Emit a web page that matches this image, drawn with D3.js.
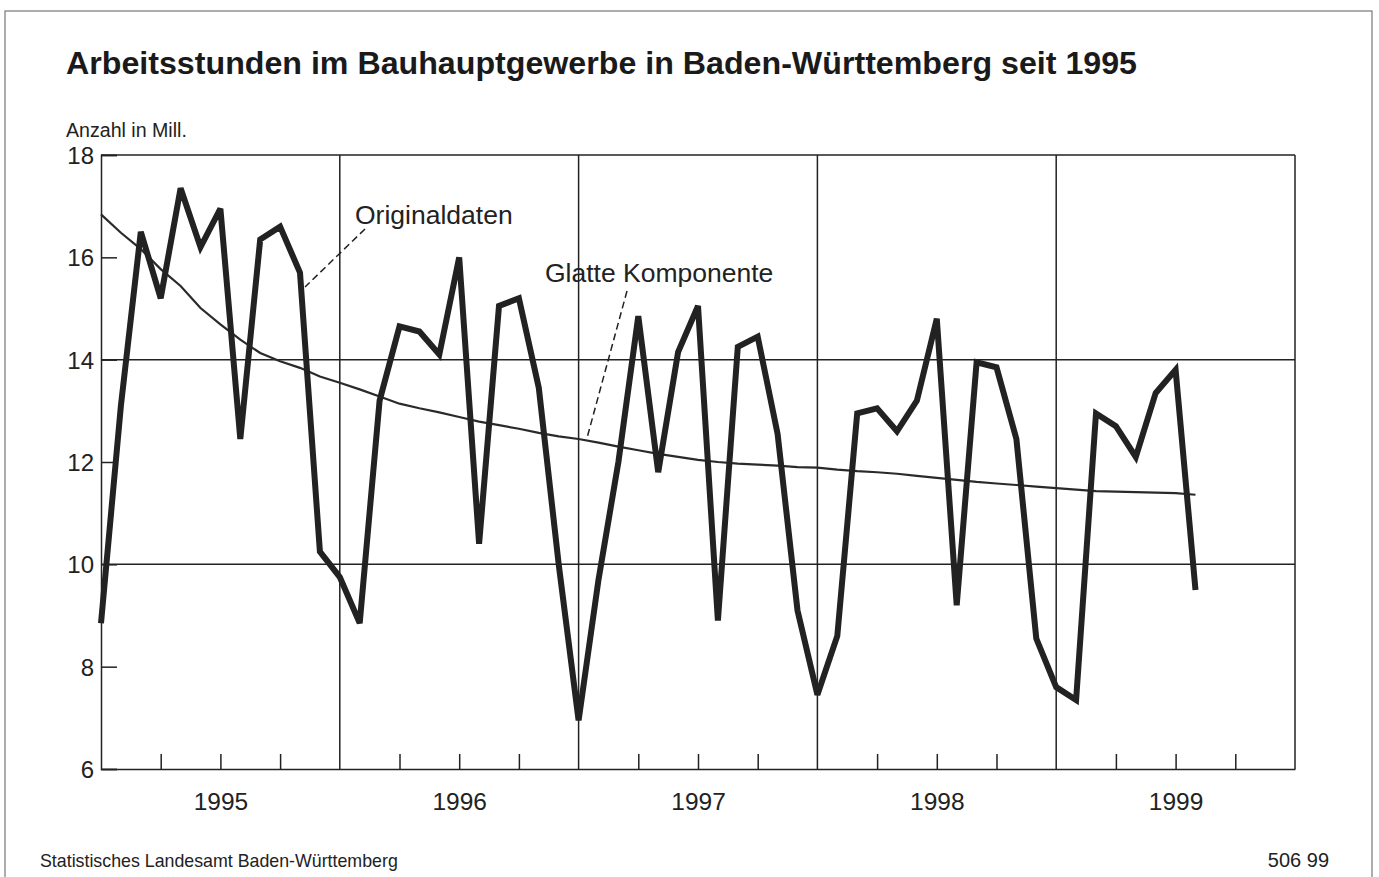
<!DOCTYPE html>
<html>
<head>
<meta charset="utf-8">
<script src="https://cdn.jsdelivr.net/npm/d3@7"></script>
<style>
  body { margin: 0; background: #fff; }
  svg { display: block; font-family: "Liberation Sans", Arial, sans-serif; }
  .axis path, .axis line { stroke: #222; }
  .axis text { fill: #222; }
</style>
</head>
<body>
<div id="chart"></div>
<script>
// monthly values, Jan 1995 .. Aug 1999 (Mill. hours)
var originalValues = [
  8.85, 13.1, 16.5, 15.2, 17.35, 16.2, 16.95, 12.45, 16.35, 16.6, 15.7, 10.25,
  9.75, 8.85, 13.2, 14.65, 14.55, 14.1, 16.0, 10.4, 15.05, 15.2, 13.45, 10.0,
  6.95, 9.7, 12.0, 14.85, 11.8, 14.15, 15.05, 8.9, 14.25, 14.45, 12.55, 9.1,
  7.45, 8.6, 12.95, 13.05, 12.6, 13.2, 14.8, 9.2, 13.95, 13.85, 12.45, 8.55,
  7.6, 7.35, 12.95, 12.7, 12.1, 13.35, 13.8, 9.5
];
var smoothValues = [
  16.84, 16.48, 16.16, 15.77, 15.44, 15.01, 14.69, 14.39, 14.13, 13.97, 13.84, 13.67,
  13.55, 13.42, 13.28, 13.14, 13.05, 12.97, 12.88, 12.79, 12.72, 12.65, 12.57, 12.5,
  12.45, 12.38, 12.3, 12.23, 12.16, 12.1, 12.04, 12.0, 11.97, 11.95, 11.93, 11.9,
  11.89, 11.85, 11.82, 11.8, 11.77, 11.73, 11.69, 11.65, 11.61, 11.58, 11.55, 11.52,
  11.49, 11.46, 11.43, 11.42, 11.41, 11.4, 11.39, 11.36
];
var yearLabels = ["1995", "1996", "1997", "1998", "1999"];
var yTickValues = [6, 8, 10, 12, 14, 16, 18];
var yGridValues = [10, 14, 18];

var W = 1379, H = 877;
var margin = {top: 155, right: 84, bottom: 108, left: 101};
var plotW = W - margin.left - margin.right;
var plotH = H - margin.top - margin.bottom;

var svg = d3.select("#chart").append("svg")
    .attr("width", W)
    .attr("height", H);

// outer frame of the scan
svg.append("rect")
    .attr("x", 5).attr("y", 11)
    .attr("width", 1367).attr("height", 900)
    .attr("fill", "none")
    .attr("stroke", "#777")
    .attr("stroke-width", 1.2);

svg.append("text")
    .attr("x", 66).attr("y", 74)
    .attr("font-size", 31)
    .attr("font-weight", "bold")
    .attr("fill", "#1a1a1a")
    .attr("textLength", 1071)
    .attr("lengthAdjust", "spacingAndGlyphs")
    .text("Arbeitsstunden im Bauhauptgewerbe in Baden-Württemberg seit 1995");

svg.append("text")
    .attr("x", 66).attr("y", 137)
    .attr("font-size", 19.6)
    .attr("fill", "#222")
    .text("Anzahl in Mill.");

svg.append("text")
    .attr("x", 40).attr("y", 867)
    .attr("font-size", 17.8)
    .attr("fill", "#222")
    .text("Statistisches Landesamt Baden-Württemberg");

svg.append("text")
    .attr("x", 1329).attr("y", 867)
    .attr("font-size", 20)
    .attr("text-anchor", "end")
    .attr("fill", "#222")
    .text("506 99");

var g = svg.append("g")
    .attr("transform", "translate(" + margin.left + "," + margin.top + ")");

var x = d3.scaleLinear().domain([0, 60]).range([0, plotW]);
var y = d3.scaleLinear().domain([6, 18]).range([plotH, 0]);

// horizontal grid lines
g.selectAll(".hgrid")
    .data(yGridValues)
    .enter().append("line")
    .attr("class", "hgrid")
    .attr("x1", 0).attr("x2", plotW)
    .attr("y1", function(d) { return y(d); })
    .attr("y2", function(d) { return y(d); })
    .attr("stroke", "#222")
    .attr("stroke-width", 1.5);

// year separators
g.selectAll(".vgrid")
    .data([12, 24, 36, 48, 60])
    .enter().append("line")
    .attr("class", "vgrid")
    .attr("x1", function(d) { return x(d); })
    .attr("x2", function(d) { return x(d); })
    .attr("y1", 0).attr("y2", plotH)
    .attr("stroke", "#222")
    .attr("stroke-width", 1.5);

// y axis, inward ticks
var yAxis = d3.axisLeft(y)
    .tickValues(yTickValues)
    .tickSize(-16)
    .tickPadding(7)
    .tickFormat(d3.format("d"));

g.append("g")
    .attr("class", "axis y")
    .call(yAxis)
    .call(function(sel) {
        sel.select(".domain").attr("stroke-width", 1.5);
        sel.selectAll("line").attr("stroke-width", 1.5);
        sel.selectAll("text")
            .attr("font-size", 24)
            .attr("dy", "0.36em")
            .attr("font-family", "Liberation Sans, Arial, sans-serif");
    });

// x axis, quarterly inward ticks
var quarterTicks = d3.range(0, 61, 3).filter(function(d) { return d % 12 !== 0; });
var xAxis = d3.axisBottom(x)
    .tickValues(quarterTicks)
    .tickSize(-15)
    .tickSizeOuter(0)
    .tickFormat("");

g.append("g")
    .attr("class", "axis x")
    .attr("transform", "translate(0," + plotH + ")")
    .call(xAxis)
    .call(function(sel) {
        sel.select(".domain").attr("stroke-width", 1.5);
        sel.selectAll("line").attr("stroke-width", 1.5);
    });

// year labels centred on each year
var yearAxis = d3.axisBottom(x)
    .tickValues(yearLabels.map(function(d, i) { return i * 12 + 6; }))
    .tickSize(0)
    .tickPadding(24)
    .tickFormat(function(d) { return yearLabels[(d - 6) / 12]; });

g.append("g")
    .attr("class", "axis years")
    .attr("transform", "translate(0," + plotH + ")")
    .call(yearAxis)
    .call(function(sel) {
        sel.select(".domain").remove();
        sel.selectAll("text").attr("font-size", 24.5).attr("font-family", "Liberation Sans, Arial, sans-serif");
    });

// smooth component
var line = d3.line()
    .x(function(d, i) { return x(i); })
    .y(function(d) { return y(d); });

g.append("path")
    .datum(smoothValues)
    .attr("d", line)
    .attr("fill", "none")
    .attr("stroke", "#2a2a2a")
    .attr("stroke-width", 2.2);

// original data
g.append("path")
    .datum(originalValues)
    .attr("d", line)
    .attr("fill", "none")
    .attr("stroke", "#222")
    .attr("stroke-width", 6)
    .attr("stroke-linejoin", "miter")
    .attr("stroke-miterlimit", 3);

// annotations with dashed leaders
var notes = [
    {text: "Originaldaten", tx: 355, ty: 224, from: [365, 229], to: [305, 287]},
    {text: "Glatte Komponente", tx: 545, ty: 282, from: [627, 291], to: [587, 438]}
];

notes.forEach(function(n) {
    svg.append("line")
        .attr("x1", n.from[0]).attr("y1", n.from[1])
        .attr("x2", n.to[0]).attr("y2", n.to[1])
        .attr("stroke", "#222")
        .attr("stroke-width", 1.5)
        .attr("stroke-dasharray", "7,4");
    svg.append("text")
        .attr("x", n.tx).attr("y", n.ty)
        .attr("font-size", 26.5)
        .attr("fill", "#222")
        .text(n.text);
});
</script>
</body>
</html>
